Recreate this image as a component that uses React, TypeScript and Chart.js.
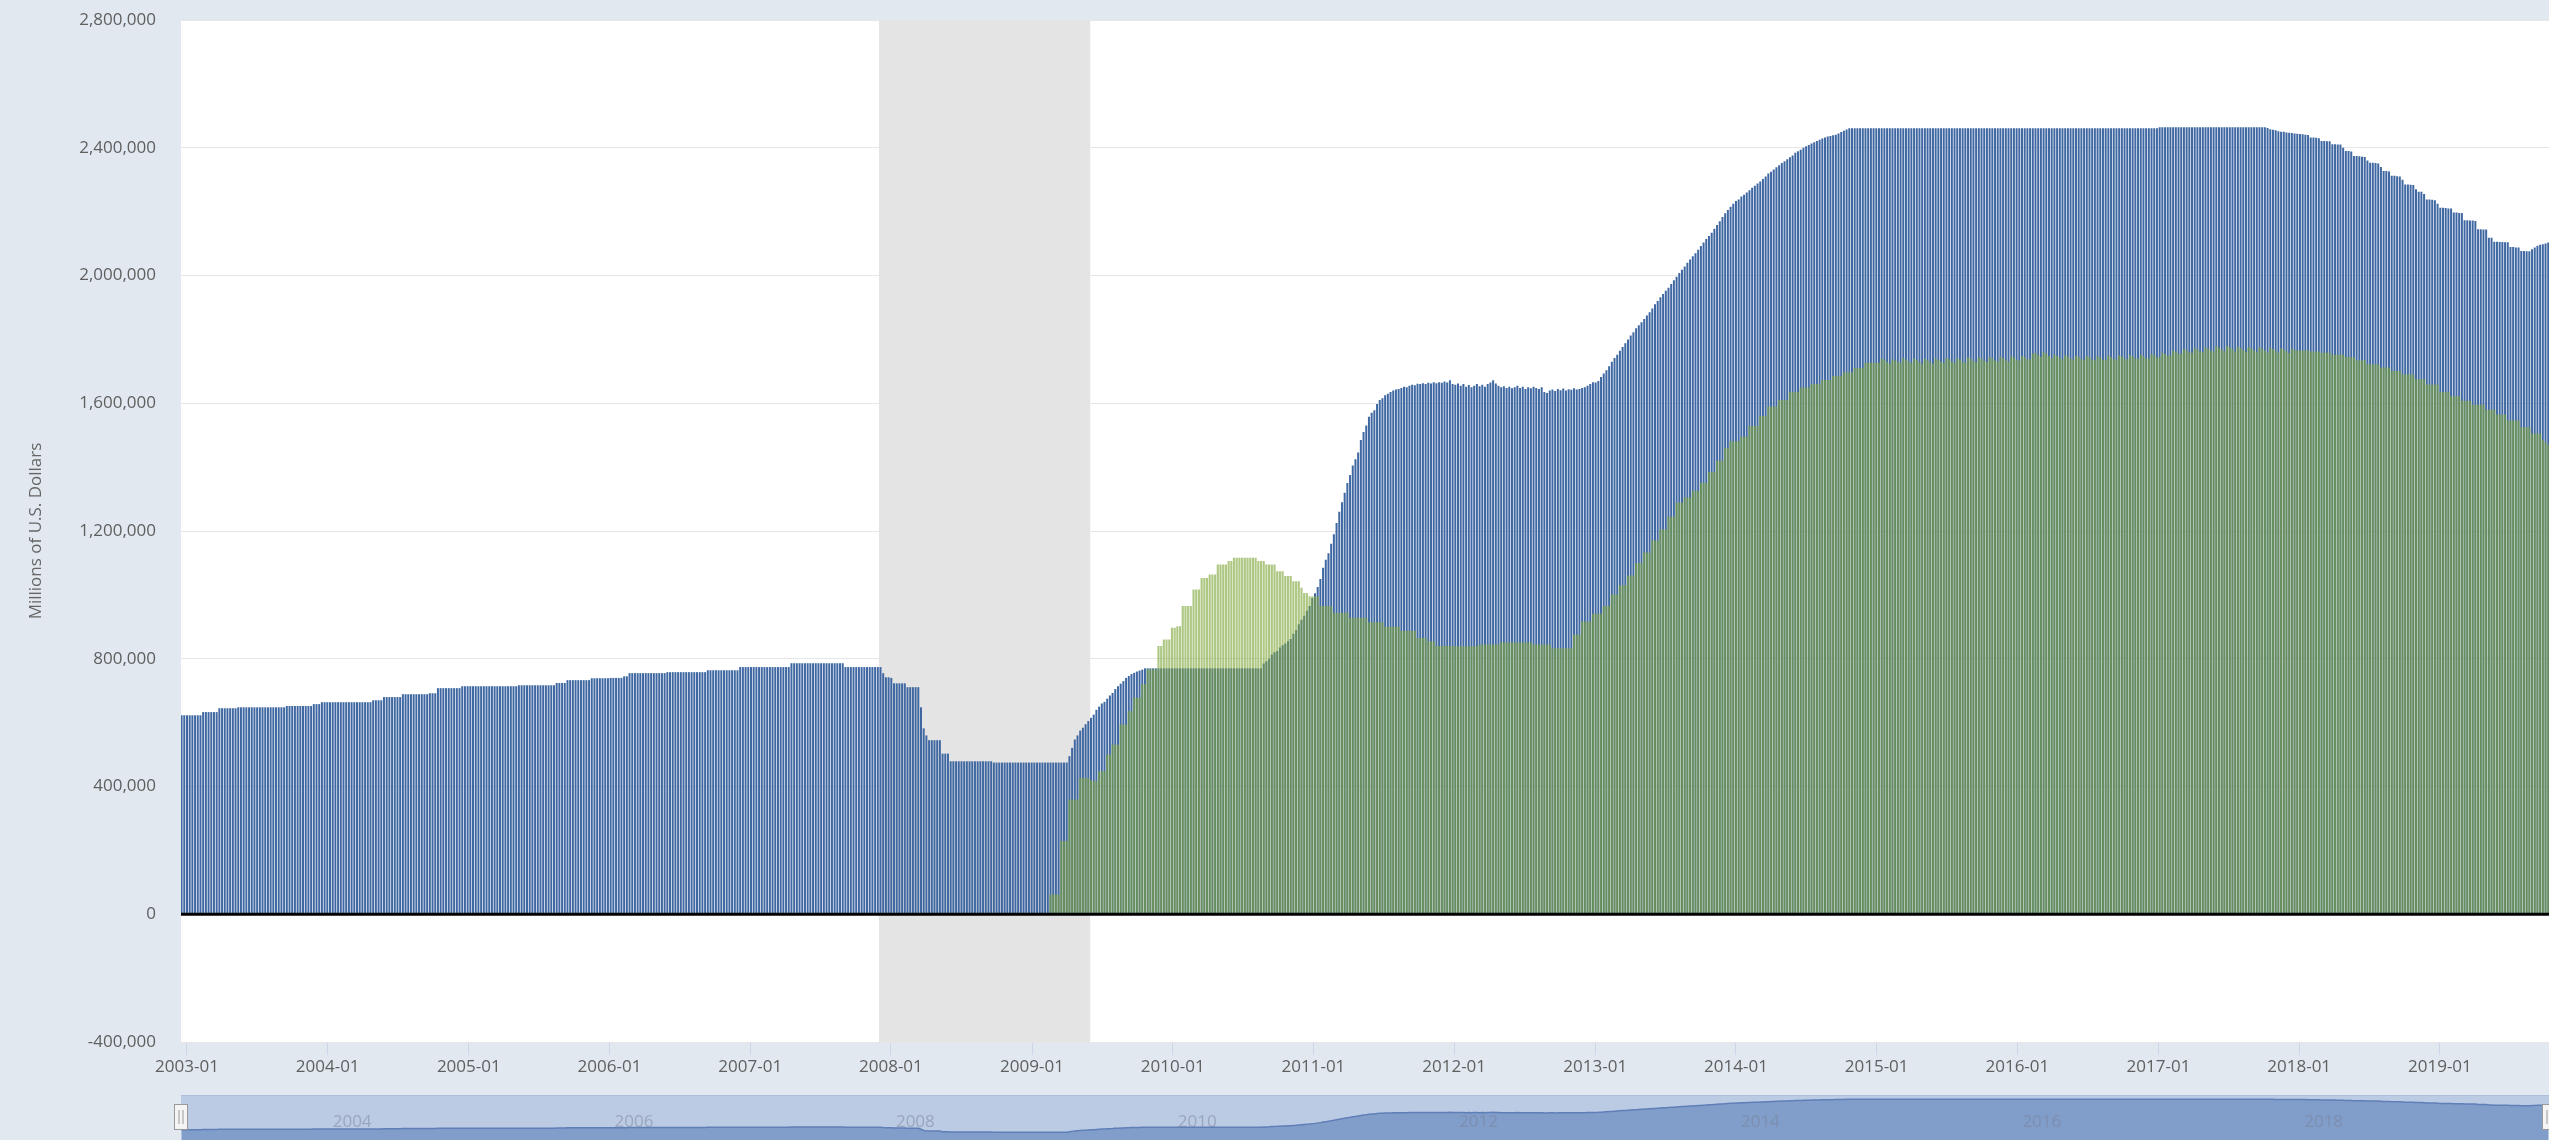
import React, { useEffect, useRef } from 'react';
import { Chart, registerables } from 'chart.js';

Chart.register(...registerables);

// ---------- DATA (billions of U.S. dollars, weekly Wednesday levels) ----------
// Treasury securities held outright (blue)
const treasury2002 = [623, 623]; // Dec 18 and Dec 25, 2002
const treasury2003 = [
  623,623,623,623,623,623,633,633,633,633,
  633,633,645,645,645,645,645,645,645,648,
  648,648,648,648,648,648,648,648,648,648,
  648,648,648,648,648,648,648,652,652,652,
  652,652,652,652,652,652,652,658,658,658,
  664,664,664];
const treasury2004 = [
  664,664,664,664,664,664,664,664,664,664,
  664,664,664,664,664,664,670,670,670,670,
  680,680,680,680,680,680,680,689,689,689,
  689,689,689,689,689,689,689,692,692,692,
  708,708,708,708,708,708,708,708,708,714,
  714,714];
const treasury2005 = [
  714,714,714,714,714,714,714,714,714,714,
  714,714,714,714,714,714,714,714,717,717,
  717,717,717,717,717,717,717,717,717,717,
  717,717,724,724,724,724,733,733,733,733,
  733,733,733,733,733,739,739,739,739,739,
  739,739];
const treasury2006 = [
  740,740,740,740,740,745,745,755,755,755,
  755,755,755,755,755,755,755,755,755,755,
  755,758,758,758,758,758,758,758,758,758,
  758,758,758,758,758,758,764,764,764,764,
  764,764,764,764,764,764,764,764,774,774,
  774,774];
const treasury2007 = [
  774,774,774,774,774,774,774,774,774,774,
  774,774,774,774,774,786,786,786,786,786,
  786,786,786,786,786,786,786,786,786,786,
  786,786,786,786,786,774,774,774,774,774,
  774,774,774,774,774,774,774,774,774,755,
  742,742];
const treasury2008 = [
  740,723,723,723,723,723,711,711,711,711,
  711,648,582,560,545,545,545,545,545,503,
  503,503,479,479,479,479,479,479,479,479,
  479,479,479,479,479,479,479,479,475,475,
  475,475,475,475,475,475,475,475,475,475,
  475,475,475];
const treasury2009 = [
  475,475,475,475,475,475,475,475,475,475,
  475,475,475,495,521,547,560,575,584,595,
  605,615,625,640,650,660,665,675,685,693,
  705,714,722,730,740,746,752,756,760,763,
  766,770,770,770,770,770,770,770,770,770,
  770,770];
const treasury2010 = [
  770,770,770,770,770,770,770,770,770,770,
  770,770,770,770,770,770,770,770,770,770,
  770,770,770,770,770,770,770,770,770,770,
  770,770,770,785,792,800,813,820,824,835,
  842,848,855,862,878,890,908,922,935,950,
  965,990];
const treasury2011 = [
  1005,1025,1050,1085,1110,1130,1160,1190,1225,1260,
  1290,1320,1350,1375,1405,1425,1446,1485,1510,1530,
  1558,1570,1578,1598,1610,1616,1625,1630,1635,1640,
  1643,1645,1648,1652,1650,1655,1658,1656,1661,1660,
  1663,1660,1664,1662,1666,1663,1666,1664,1668,1665,
  1672,1660];
const treasury2012 = [
  1658,1662,1655,1660,1652,1657,1650,1655,1660,1653,
  1658,1652,1660,1665,1672,1662,1655,1650,1653,1648,
  1652,1647,1650,1655,1648,1652,1645,1650,1647,1652,
  1648,1645,1650,1635,1632,1640,1643,1638,1645,1641,
  1646,1640,1644,1642,1647,1643,1645,1648,1650,1655,
  1660,1666];
const treasury2013 = [
  1665,1670,1682,1693,1703,1716,1730,1742,1752,1764,
  1776,1788,1800,1812,1822,1835,1844,1854,1864,1875,
  1885,1897,1910,1920,1932,1942,1952,1962,1973,1985,
  1996,2008,2018,2028,2040,2050,2060,2070,2081,2092,
  2103,2114,2124,2134,2146,2158,2170,2183,2195,2205,
  2215,2225];
const treasury2014 = [
  2233,2238,2247,2253,2260,2267,2275,2281,2288,2294,
  2302,2310,2319,2325,2332,2339,2345,2352,2358,2364,
  2370,2376,2384,2389,2394,2400,2405,2409,2413,2417,
  2421,2425,2429,2432,2435,2437,2439,2441,2445,2449,
  2453,2457,2461,2461,2461,2461,2461,2461,2461,2461,
  2461,2461,2461];
const treasury2015 = [
  2461,2461,2461,2461,2461,2461,2461,2461,2461,2461,
  2461,2461,2461,2461,2461,2461,2461,2461,2461,2461,
  2461,2461,2461,2461,2461,2461,2461,2461,2461,2461,
  2461,2461,2461,2461,2461,2461,2461,2461,2461,2461,
  2461,2461,2461,2461,2461,2461,2461,2461,2461,2461,
  2461,2461];
const treasury2016 = [
  2461,2461,2461,2461,2461,2461,2461,2461,2461,2461,
  2461,2461,2461,2461,2461,2461,2461,2461,2461,2461,
  2461,2461,2461,2461,2461,2461,2461,2461,2461,2461,
  2461,2461,2461,2461,2461,2461,2461,2461,2461,2461,
  2461,2461,2461,2461,2461,2461,2461,2461,2461,2461,
  2461,2461];
const treasury2017 = [
  2464,2464,2464,2464,2464,2464,2464,2464,2464,2464,
  2464,2464,2464,2464,2464,2464,2464,2464,2464,2464,
  2464,2464,2464,2464,2464,2464,2464,2464,2464,2464,
  2464,2464,2464,2464,2464,2464,2464,2464,2464,2464,
  2462,2458,2456,2455,2452,2450,2450,2448,2447,2446,
  2445,2444];
const treasury2018 = [
  2443,2442,2441,2440,2432,2432,2431,2430,2421,2421,
  2420,2420,2411,2411,2410,2410,2400,2390,2390,2388,
  2374,2374,2373,2372,2371,2360,2353,2353,2352,2351,
  2340,2327,2327,2326,2312,2312,2311,2310,2300,2285,
  2285,2284,2283,2270,2262,2262,2255,2238,2238,2237,
  2236,2225];
const treasury2019 = [
  2212,2212,2211,2210,2210,2197,2197,2196,2196,2173,
  2173,2172,2172,2171,2145,2145,2144,2144,2118,2118,
  2106,2106,2105,2105,2104,2104,2089,2089,2088,2088,
  2077,2077,2076,2076,2082,2088,2093,2096,2098,2100,
  2103];

// Mortgage-backed securities held outright (green)
const mbs2009 = [
  0,0,0,0,0,0,62,62,62,62,
  229,229,229,359,359,359,359,427,427,427,
  427,420,417,417,448,448,448,500,500,531,
  531,531,594,594,594,636,636,678,678,678,
  720,720,767,767,767,767,840,840,860,860,
  860,897];
const mbs2010 = [
  897,902,902,965,965,965,965,1017,1017,1017,
  1053,1053,1053,1064,1064,1064,1095,1095,1095,1095,
  1106,1106,1116,1116,1116,1116,1116,1116,1116,1116,
  1116,1106,1106,1106,1095,1095,1095,1095,1074,1074,
  1074,1059,1059,1059,1043,1043,1043,1022,1006,1006,
  996,996];
const mbs2011 = [
  996,996,965,965,965,965,965,944,944,944,
  944,944,944,928,928,928,928,928,928,928,
  914,914,914,914,914,914,900,900,900,900,
  900,900,888,888,888,888,888,888,865,865,
  865,865,855,855,855,840,840,840,840,840,
  840,840];
const mbs2012 = [
  839,839,839,839,839,839,839,839,839,845,
  845,845,845,845,845,845,845,851,851,851,
  851,851,851,851,851,851,851,851,851,845,
  845,845,845,845,845,845,833,833,833,833,
  833,833,833,833,875,875,875,917,917,917,
  917,941];
const mbs2013 = [
  941,941,941,965,965,965,1001,1001,1001,1030,
  1030,1030,1061,1061,1061,1100,1100,1100,1133,1133,
  1133,1170,1170,1170,1205,1205,1205,1245,1245,1245,
  1289,1289,1289,1305,1305,1305,1325,1325,1325,1350,
  1350,1350,1385,1385,1385,1420,1420,1420,1460,1460,
  1481,1481];
const mbs2014 = [
  1481,1481,1495,1495,1495,1529,1529,1529,1529,1560,
  1560,1560,1590,1590,1590,1590,1610,1610,1610,1610,
  1635,1635,1635,1635,1649,1649,1649,1649,1660,1660,
  1660,1660,1673,1673,1673,1673,1685,1685,1685,1685,
  1697,1697,1697,1697,1710,1710,1710,1710,1727,1727,
  1727,1727,1727];
const mbs2015 = [
  1727,1740,1736,1729,1724,1738,1735,1730,1726,1741,
  1737,1731,1725,1740,1736,1729,1723,1739,1735,1728,
  1724,1740,1736,1730,1726,1742,1738,1731,1725,1741,
  1737,1730,1727,1743,1739,1732,1728,1744,1740,1733,
  1729,1745,1741,1734,1730,1746,1742,1735,1731,1747,
  1743,1736];
const mbs2016 = [
  1733,1748,1744,1737,1738,1755,1758,1750,1745,1760,
  1756,1748,1740,1752,1748,1741,1738,1750,1746,1739,
  1737,1749,1745,1738,1736,1748,1744,1737,1735,1747,
  1743,1736,1736,1749,1745,1738,1737,1750,1746,1739,
  1738,1751,1747,1740,1739,1752,1748,1741,1740,1754,
  1750,1743];
const mbs2017 = [
  1745,1758,1754,1748,1750,1765,1762,1755,1755,1770,
  1766,1760,1758,1772,1768,1762,1760,1775,1771,1765,
  1762,1778,1774,1768,1763,1779,1775,1769,1762,1777,
  1773,1767,1761,1776,1772,1766,1760,1775,1771,1765,
  1759,1774,1770,1764,1758,1772,1768,1763,1757,1771,
  1767,1765];
const mbs2018 = [
  1765,1765,1765,1765,1762,1762,1762,1762,1758,1758,
  1758,1758,1752,1752,1752,1752,1752,1745,1745,1745,
  1745,1735,1735,1735,1735,1722,1722,1722,1722,1722,
  1712,1712,1712,1712,1701,1701,1701,1701,1690,1690,
  1690,1690,1690,1675,1675,1675,1675,1659,1659,1659,
  1659,1659];
const mbs2019 = [
  1635,1635,1635,1635,1622,1622,1622,1622,1608,1608,
  1608,1608,1595,1595,1595,1595,1595,1580,1580,1580,
  1580,1565,1565,1565,1565,1546,1546,1546,1546,1546,
  1525,1525,1525,1525,1505,1505,1505,1505,1485,1478,
  1471];

const treasuryYears: [number, number[], number][] = [
  [2002, treasury2002, 50], [2003, treasury2003, 0], [2004, treasury2004, 0],
  [2005, treasury2005, 0], [2006, treasury2006, 0], [2007, treasury2007, 0],
  [2008, treasury2008, 0], [2009, treasury2009, 0], [2010, treasury2010, 0],
  [2011, treasury2011, 0], [2012, treasury2012, 0], [2013, treasury2013, 0],
  [2014, treasury2014, 0], [2015, treasury2015, 0], [2016, treasury2016, 0],
  [2017, treasury2017, 0], [2018, treasury2018, 0], [2019, treasury2019, 0],
];
const mbsYears: [number, number[], number][] = [
  [2009, mbs2009, 0], [2010, mbs2010, 0], [2011, mbs2011, 0], [2012, mbs2012, 0],
  [2013, mbs2013, 0], [2014, mbs2014, 0], [2015, mbs2015, 0], [2016, mbs2016, 0],
  [2017, mbs2017, 0], [2018, mbs2018, 0], [2019, mbs2019, 0],
];

const X_TICK_YEARS = [2003, 2004, 2005, 2006, 2007, 2008, 2009, 2010, 2011, 2012, 2013, 2014, 2015, 2016, 2017, 2018, 2019];
const NAV_LABEL_YEARS = [2004, 2006, 2008, 2010, 2012, 2014, 2016, 2018];
const Y_MIN = -400000;
const Y_MAX = 2800000;
const Y_STEP = 400000;
const RECESSION = { start: [2007, 11, 1], end: [2009, 5, 1] };
const Y_TITLE = 'Millions of U.S. Dollars';

// ---------- helpers ----------
const DAY = 86400000;
const EPOCH = Date.UTC(2003, 0, 1);
const dayNum = (y: number, m: number, d: number) => (Date.UTC(y, m, d) - EPOCH) / DAY;
const firstWednesday = (year: number) => {
  const dow = new Date(Date.UTC(year, 0, 1)).getUTCDay();
  return dayNum(year, 0, 1 + ((3 - dow + 7) % 7));
};
const buildPoints = (years: [number, number[], number][]) => {
  const pts: { x: number; y: number }[] = [];
  years.forEach(([year, vals, startWeek]) => {
    const f = firstWednesday(year);
    vals.forEach((v, i) => pts.push({ x: f + 7 * (i + startWeek), y: v * 1000 }));
  });
  return pts;
};

const X_MIN = -15.5;
const X_MAX = 6127;
const FONT = "'Open Sans', sans-serif";

const mainPlugin = {
  id: 'mainDecor',
  beforeDraw(chart: any) {
    const { ctx, chartArea: a } = chart;
    ctx.save();
    ctx.fillStyle = '#ffffff';
    ctx.fillRect(a.left, a.top, a.right - a.left, a.bottom - a.top);
    ctx.restore();
  },
  beforeDatasetsDraw(chart: any) {
    const { ctx, chartArea: a, scales } = chart;
    const x0 = scales.x.getPixelForValue(dayNum(RECESSION.start[0], RECESSION.start[1], RECESSION.start[2]));
    const x1 = scales.x.getPixelForValue(dayNum(RECESSION.end[0], RECESSION.end[1], RECESSION.end[2]));
    ctx.save();
    ctx.fillStyle = '#e4e4e4';
    ctx.fillRect(x0, a.top, x1 - x0, a.bottom - a.top);
    ctx.restore();
  },
  afterDatasetsDraw(chart: any) {
    const { ctx, chartArea: a, scales } = chart;
    const y0 = scales.y.getPixelForValue(0);
    ctx.save();
    ctx.strokeStyle = '#000000';
    ctx.lineWidth = 3;
    ctx.beginPath();
    ctx.moveTo(a.left, y0);
    ctx.lineTo(a.right, y0);
    ctx.stroke();
    ctx.restore();
  },
};

const navPlugin = {
  id: 'navDecor',
  beforeDraw(chart: any) {
    const { ctx, chartArea: a } = chart;
    ctx.save();
    ctx.fillStyle = '#bccbe4';
    ctx.fillRect(a.left, a.top, a.right - a.left, a.bottom - a.top);
    ctx.strokeStyle = '#aebdd8';
    ctx.lineWidth = 1;
    ctx.beginPath();
    ctx.moveTo(a.left, a.top + 0.5);
    ctx.lineTo(a.right, a.top + 0.5);
    ctx.stroke();
    ctx.restore();
  },
  afterDraw(chart: any) {
    const { ctx, chartArea: a, scales } = chart;
    ctx.save();
    ctx.font = `17px ${FONT}`;
    ctx.fillStyle = 'rgba(120,130,150,0.5)';
    ctx.textAlign = 'left';
    ctx.textBaseline = 'middle';
    NAV_LABEL_YEARS.forEach((yr) => {
      const px = scales.x.getPixelForValue(dayNum(yr, 0, 1));
      ctx.fillText(String(yr), px + 5, 32);
    });
    const drawHandle = (cx: number) => {
      ctx.fillStyle = '#f4f4f4';
      ctx.strokeStyle = '#9a9a9a';
      ctx.lineWidth = 1;
      ctx.fillRect(cx - 6.5, 14.5, 13, 25);
      ctx.strokeRect(cx - 6.5, 14.5, 13, 25);
      ctx.beginPath();
      ctx.moveTo(cx - 2, 20); ctx.lineTo(cx - 2, 34);
      ctx.moveTo(cx + 2, 20); ctx.lineTo(cx + 2, 34);
      ctx.stroke();
    };
    drawHandle(a.left);
    drawHandle(a.right);
    ctx.restore();
  },
};

export default function App() {
  const mainRef = useRef<HTMLCanvasElement>(null);
  const navRef = useRef<HTMLCanvasElement>(null);

  useEffect(() => {
    const treasuryPts = buildPoints(treasuryYears);
    const mbsPts = buildPoints(mbsYears);
    const tickDays = X_TICK_YEARS.map((y) => dayNum(y, 0, 1));

    const main = new Chart(mainRef.current as HTMLCanvasElement, {
      type: 'bar',
      data: {
        datasets: [
          {
            label: 'Treasury securities',
            data: treasuryPts,
            backgroundColor: '#3f68a2',
            borderWidth: 0,
            grouped: false,
            barPercentage: 0.74,
            categoryPercentage: 1,
            order: 2,
          } as any,
          {
            label: 'Mortgage-backed securities',
            data: mbsPts,
            backgroundColor: 'rgba(125,165,55,0.62)',
            borderWidth: 0,
            grouped: false,
            barPercentage: 0.8,
            categoryPercentage: 1,
            order: 1,
          } as any,
        ],
      },
      options: {
        animation: false,
        responsive: false,
        events: [],
        layout: { padding: { top: 20, left: 0, right: 0, bottom: 0 } },
        plugins: { legend: { display: false }, tooltip: { enabled: false } },
        scales: {
          x: {
            type: 'linear',
            min: X_MIN,
            max: X_MAX,
            offset: false,
            afterBuildTicks: (scale: any) => {
              scale.ticks = tickDays.map((v) => ({ value: v }));
            },
            afterFit: (scale: any) => {
              scale.height = 48;
              scale.paddingLeft = 0;
              scale.paddingRight = 0;
            },
            ticks: {
              autoSkip: false,
              maxRotation: 0,
              padding: 2,
              color: '#5f5f5f',
              font: { family: FONT, size: 17 },
              callback: (_v: any, i: number) => `${X_TICK_YEARS[i]}-01`,
            },
            grid: {
              display: true,
              drawOnChartArea: false,
              drawTicks: true,
              tickLength: 13,
              color: '#ccd6eb',
              offset: false,
            },
            border: { display: false },
          },
          y: {
            min: Y_MIN,
            max: Y_MAX,
            afterFit: (scale: any) => {
              scale.width = 181;
              scale.paddingTop = 0;
              scale.paddingBottom = 0;
            },
            ticks: {
              stepSize: Y_STEP,
              padding: 25,
              color: '#5f5f5f',
              font: { family: FONT, size: 17 },
              callback: (v: any) => Number(v).toLocaleString('en-US'),
            },
            grid: {
              drawTicks: false,
              color: (c: any) => (c.tick && c.tick.value === 0 ? 'rgba(0,0,0,0)' : '#e6e6e6'),
              lineWidth: 1,
            },
            border: { display: false },
            title: {
              display: true,
              text: Y_TITLE,
              color: '#666666',
              font: { family: FONT, size: 17 },
              padding: { top: 26, bottom: 0 },
            },
          },
        },
      },
      plugins: [mainPlugin],
    } as any);

    const nav = new Chart(navRef.current as HTMLCanvasElement, {
      type: 'line',
      data: {
        datasets: [
          {
            data: treasuryPts,
            fill: 'origin',
            backgroundColor: '#819dca',
            borderColor: '#5f7fb7',
            borderWidth: 1.5,
            pointRadius: 0,
            tension: 0,
          },
        ],
      },
      options: {
        animation: false,
        responsive: false,
        events: [],
        layout: { padding: { top: 5, left: 181, right: 0, bottom: 0 } },
        plugins: { legend: { display: false }, tooltip: { enabled: false } },
        scales: {
          x: { type: 'linear', display: false, min: X_MIN, max: X_MAX },
          y: { display: false, min: 0, max: 2720000 },
        },
      },
      plugins: [navPlugin],
    } as any);

    return () => {
      main.destroy();
      nav.destroy();
    };
  }, []);

  return (
    <div
      style={{
        position: 'fixed',
        left: 0,
        top: 0,
        width: 2549,
        height: 1140,
        background: '#e1e8f0',
        overflow: 'hidden',
        fontFamily: FONT,
      }}
    >
      <canvas ref={mainRef} width={2549} height={1090} style={{ position: 'absolute', left: 0, top: 0 }} />
      <canvas ref={navRef} width={2549} height={50} style={{ position: 'absolute', left: 0, top: 1090 }} />
    </div>
  );
}
